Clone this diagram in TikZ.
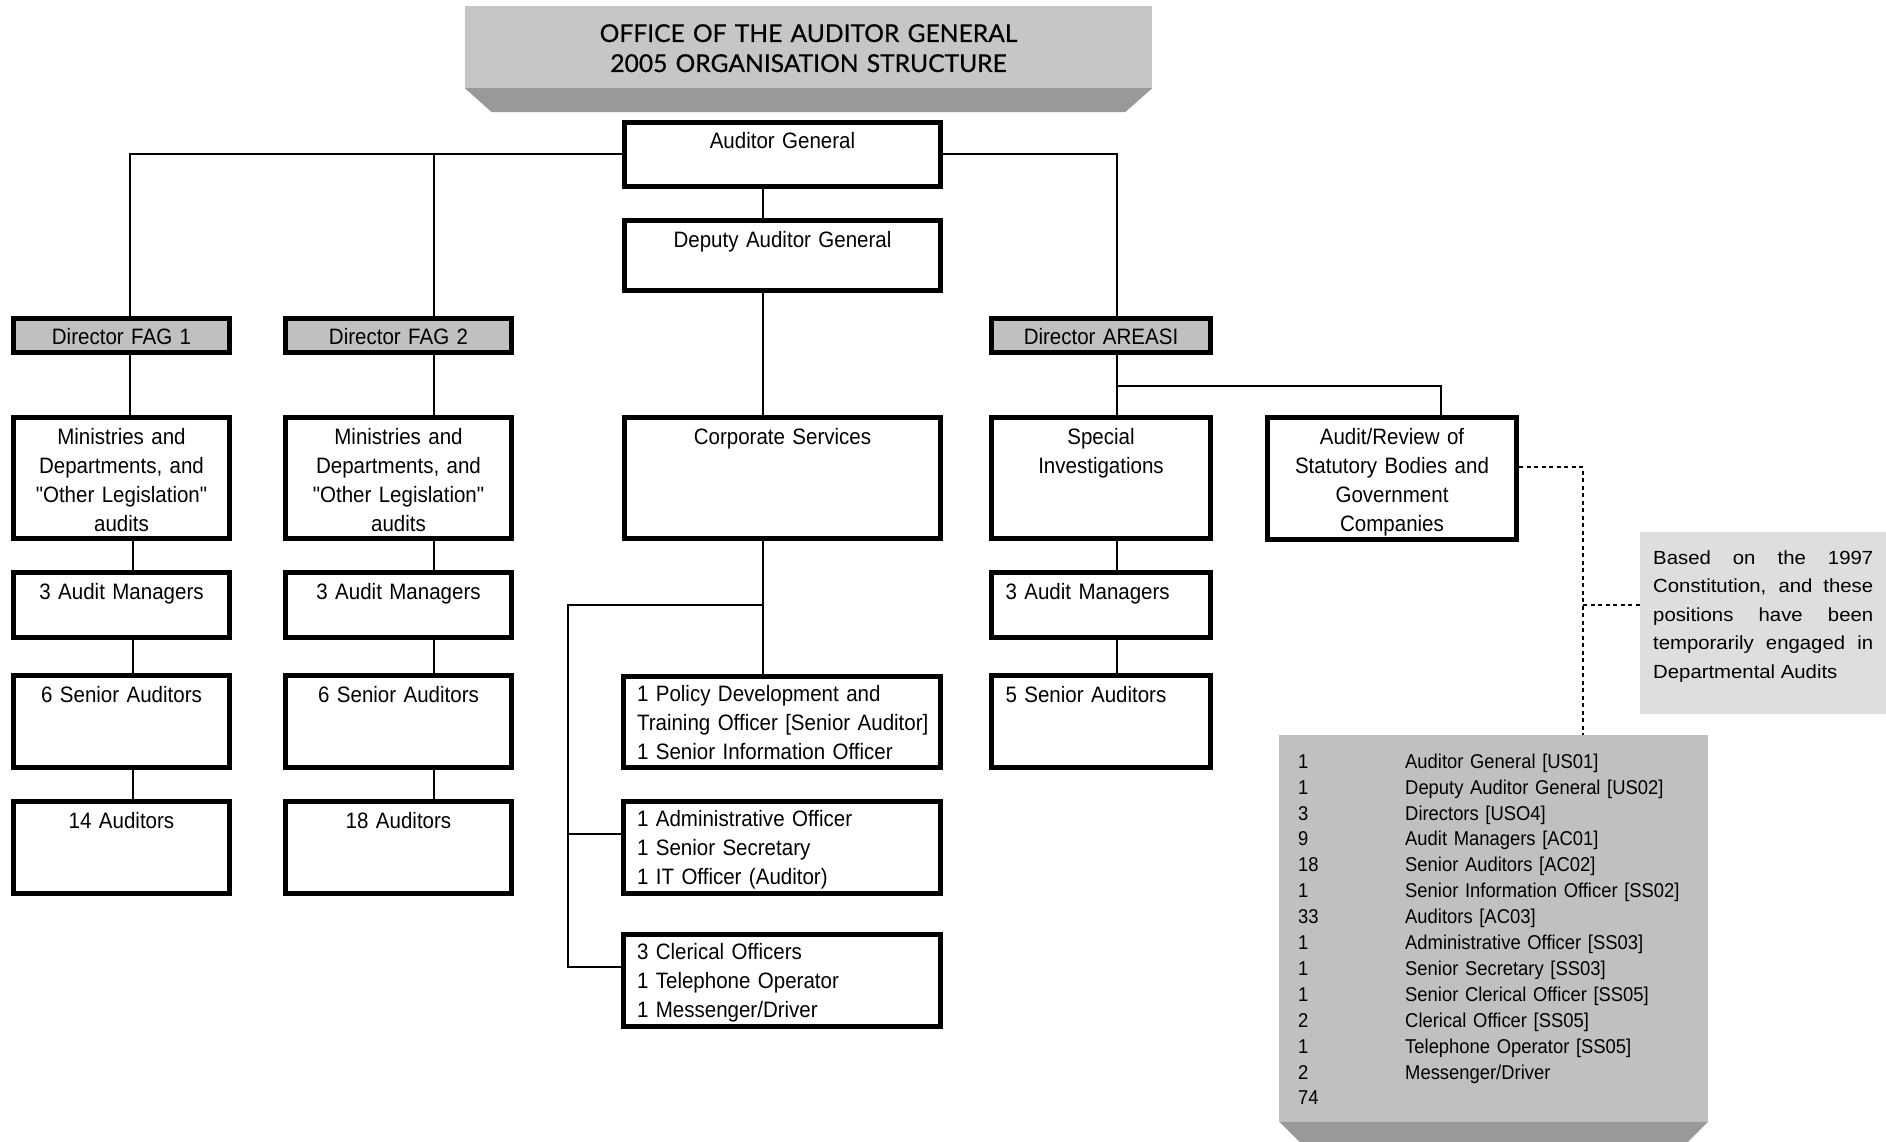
\documentclass[tikz,border=0pt]{standalone}
\usepackage{fontspec}
\setmainfont{Liberation Sans}
\newfontfamily\orgfont[FakeStretch=0.92]{Liberation Sans}
\newfontfamily\notefont[FakeStretch=1.07]{Liberation Sans}
\newfontfamily\bannerfont[FakeBold=0.6]{Lato}
\usetikzlibrary{positioning}

\definecolor{bannergrey}{HTML}{C6C6C6}
\definecolor{headgrey}{HTML}{C0C0C0}
\definecolor{bevelgrey}{HTML}{999999}
\definecolor{notegrey}{HTML}{DEDEDE}

\newcommand{\staffrow}[2]{\makebox[107pt][l]{#1}#2}

\tikzset{
  unit/.style={draw, line width=5pt, inner xsep=14pt, inner ysep=0pt,
    text height=26.5pt, align=center,
    font={\orgfont\fontsize{22.3}{29}\selectfont}},
  head/.style={unit, fill=headgrey, text height=25.5pt, text depth=8.5pt},
  sub/.style={unit, align=left, inner xsep=13.5pt, text width=290pt, text height=25pt},
  link/.style={line width=2pt},
  dotlink/.style={line width=2.5pt, dash pattern=on 4pt off 3.5pt},
  banner/.style={fill=bannergrey, inner sep=0pt, text width=687pt, align=center,
    text height=36pt, text depth=46pt,
    font={\bannerfont\fontsize{24.6}{30}\selectfont}}
}

\begin{document}
\begin{tikzpicture}[x=1pt,y=-1pt]
\useasboundingbox (0,0) rectangle (1886,1142);

% title
\node[banner] (title) at (808.5,47) {OFFICE OF THE AUDITOR GENERAL\\2005 ORGANISATION STRUCTURE};
\fill[bevelgrey] (title.south west) -- (title.south east)
  -- ([shift={(-27,24)}]title.south east) -- ([shift={(27,24)}]title.south west) -- cycle;

% line positions
\coordinate (colA) at (130,0);
\coordinate (colB) at (133,0);
\coordinate (colC) at (434,0);
\coordinate (spine) at (763,0);
\coordinate (colF) at (568,0);
\coordinate (colD) at (1117,0);
\coordinate (colE) at (1441,0);
\coordinate (colG) at (1583,0);
\coordinate (split) at (0,386);
\coordinate (dotrow) at (0,467);
\coordinate (fork) at (0,605);
\coordinate (adminrow) at (0,834);
\coordinate (clerrow) at (0,967);

% top of the office
\node[unit, text width=288pt, text depth=37.5pt] (ag) at (782.5,154.5) {Auditor General};
\node[unit, text width=288pt, text depth=43.5pt] (dag) at (782.5,255.5) {Deputy Auditor General};

% directors
\node[head, text width=188pt] (fag1) at (121.5,335.5) {Director FAG 1};
\node[head, text width=198pt] (fag2) at (398.5,335.5) {Director FAG 2};
\node[head, text width=191pt] (areasi) at (1101,335.5) {Director AREASI};

% divisions
\node[unit, text width=188pt, text depth=94.5pt] (min1) at (121.5,478) {Ministries and\\Departments, and\\"Other Legislation"\\audits};
\node[unit, text width=198pt, text depth=94.5pt] (min2) at (398.5,478) {Ministries and\\Departments, and\\"Other Legislation"\\audits};
\node[unit, text width=288pt, text depth=94.5pt] (corp) at (782.5,478) {Corporate Services};
\node[unit, text width=191pt, text depth=94.5pt] (spec) at (1101,478) {Special\\Investigations};
\node[unit, text width=221pt, text depth=95.5pt] (arev) at (1392,478.5) {Audit/Review of\\Statutory Bodies and\\Government\\Companies};

% FAG 1
\node[unit, text width=188pt, text depth=38.5pt] (am1) at (121.5,605) {3 Audit Managers};
\node[unit, text width=188pt, text depth=65.5pt] (sa1) at (121.5,721.5) {6 Senior Auditors};
\node[unit, text width=188pt, text depth=65.5pt] (aud1) at (121.5,847.5) {14 Auditors};

% FAG 2
\node[unit, text width=198pt, text depth=38.5pt] (am2) at (398.5,605) {3 Audit Managers};
\node[unit, text width=198pt, text depth=65.5pt] (sa2) at (398.5,721.5) {6 Senior Auditors};
\node[unit, text width=198pt, text depth=65.5pt] (aud2) at (398.5,847.5) {18 Auditors};

% AREASI
\node[unit, align=left, text width=191pt, text depth=38.5pt] (am3) at (1101,605) {3 Audit Managers};
\node[unit, align=left, text width=191pt, text depth=65.5pt] (sa3) at (1101,721.5) {5 Senior Auditors};

% corporate services
\node[sub, text depth=66pt] (pol) at (782,722) {1 Policy Development and\\\mbox{Training Officer [Senior Auditor]}\\1 Senior Information Officer};
\node[sub, text depth=67pt] (admin) at (782,847.5) {1 Administrative Officer\\1 Senior Secretary\\1 IT Officer (Auditor)};
\node[sub, text depth=67pt] (cler) at (782,980.5) {3 Clerical Officers\\1 Telephone Operator\\1 Messenger/Driver};

% note and staff list
\node[fill=notegrey, anchor=north west, inner xsep=13pt, inner ysep=0pt, text width=220pt,
  text height=32pt, text depth=150pt, align=justify,
  font={\notefont\fontsize{19}{28.5}\selectfont}] (remark) at (1640,532)
  {Based on the 1997\linebreak Constitution, and these\linebreak positions have been\linebreak temporarily engaged in\linebreak Departmental Audits};

\node[fill=headgrey, anchor=north west, inner xsep=19pt, inner ysep=0pt, text width=391pt,
  text height=33pt, text depth=353pt, align=left,
  font={\orgfont\fontsize{20}{25.9}\selectfont}] (staff) at (1279,735)
  {\staffrow{1}{Auditor General [US01]}\\
   \staffrow{1}{Deputy Auditor General [US02]}\\
   \staffrow{3}{Directors [USO4]}\\
   \staffrow{9}{Audit Managers [AC01]}\\
   \staffrow{18}{Senior Auditors [AC02]}\\
   \staffrow{1}{Senior Information Officer [SS02]}\\
   \staffrow{33}{Auditors [AC03]}\\
   \staffrow{1}{Administrative Officer [SS03]}\\
   \staffrow{1}{Senior Secretary [SS03]}\\
   \staffrow{1}{Senior Clerical Officer [SS05]}\\
   \staffrow{2}{Clerical Officer [SS05]}\\
   \staffrow{1}{Telephone Operator [SS05]}\\
   \staffrow{2}{Messenger/Driver}\\
   74};
\fill[bevelgrey] (staff.south west) -- (staff.south east)
  -- ([shift={(-28,28)}]staff.south east) -- ([shift={(28,28)}]staff.south west) -- cycle;

% connectors
\draw[link] (ag.west) -| (colA |- fag1.north);
\draw[link] (ag.west -| colC) -- (colC |- fag2.north);
\draw[link] (ag.east) -| (colD |- areasi.north);
\draw[link] (spine |- ag.south) -- (spine |- dag.north);
\draw[link] (spine |- dag.south) -- (spine |- corp.north);
\draw[link] (spine |- corp.south) -- (spine |- pol.north);
\draw[link] (spine |- fork) -- (colF |- fork) -- (colF |- clerrow) -- (cler.west |- clerrow);
\draw[link] (colF |- adminrow) -- (admin.west |- adminrow);

\draw[link] (colA |- fag1.south) -- (colA |- min1.north);
\draw[link] (colB |- min1.south) -- (colB |- am1.north);
\draw[link] (colB |- am1.south) -- (colB |- sa1.north);
\draw[link] (colB |- sa1.south) -- (colB |- aud1.north);

\draw[link] (colC |- fag2.south) -- (colC |- min2.north);
\draw[link] (colC |- min2.south) -- (colC |- am2.north);
\draw[link] (colC |- am2.south) -- (colC |- sa2.north);
\draw[link] (colC |- sa2.south) -- (colC |- aud2.north);

\draw[link] (colD |- areasi.south) -- (colD |- spec.north);
\draw[link] (colD |- split) -| (colE |- arev.north);
\draw[link] (colD |- spec.south) -- (colD |- am3.north);
\draw[link] (colD |- am3.south) -- (colD |- sa3.north);

\draw[dotlink] (arev.east |- dotrow) -| (colG |- staff.north);
\draw[dotlink] (colG |- fork) -- (remark.west |- fork);
\end{tikzpicture}
\end{document}
